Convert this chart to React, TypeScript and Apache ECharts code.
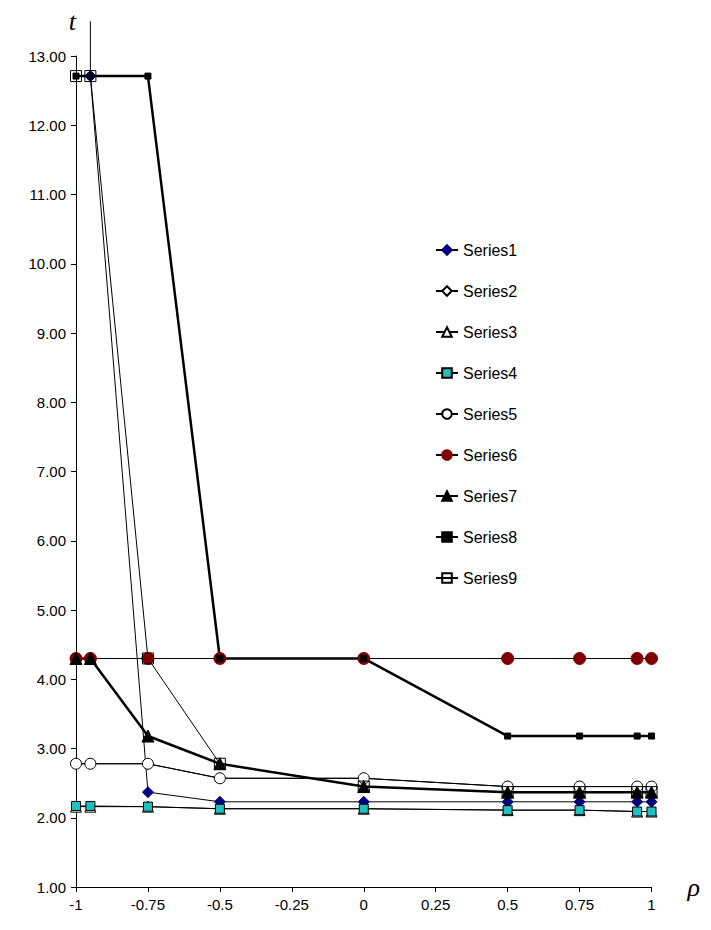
import React, { useEffect, useRef } from 'react'
import * as echarts from 'echarts'

const rhoValues = [-1, -0.95, -0.75, -0.5, 0, 0.5, 0.75, 0.95, 1]
const yTicks = [1, 13]

const series1 = [null, 12.71, 2.37, 2.23, 2.23, 2.23, 2.23, 2.23, 2.23]
const series1Top = 13.5
const series2 = [2.78, 2.78, 2.78, 2.57, 2.57, 2.45, 2.45, 2.45, 2.45]
const series3 = [2.16, 2.16, 2.16, 2.13, 2.13, 2.11, 2.11, 2.09, 2.09]
const series4 = [2.17, 2.17, 2.16, 2.13, 2.13, 2.11, 2.11, 2.09, 2.09]
const series5 = [2.78, 2.78, 2.78, 2.57, 2.57, 2.45, 2.45, 2.45, 2.45]
const series6 = [4.3, 4.3, 4.3, 4.3, 4.3, 4.3, 4.3, 4.3, 4.3]
const series7 = [4.3, 4.3, 3.18, 2.78, 2.45, 2.37, 2.37, 2.37, 2.37]
const series8 = [12.71, 12.71, 12.71, 4.3, 4.3, 3.18, 3.18, 3.18, 3.18]
const series9 = [12.71, 12.71, 4.3, 2.78, 2.45, 2.37, 2.37, 2.37, 2.37]

const pts = (vals: (number | null)[]) =>
  rhoValues.map((x, i) => [x, vals[i]]).filter(p => p[1] !== null)

const App: React.FC = () => {
  const ref = useRef<HTMLDivElement>(null)

  useEffect(() => {
    if (!ref.current) return
    const chart = echarts.init(ref.current, undefined, { renderer: 'svg' })
    const mk = (name: string, vals: (number | null)[], symbol: string, size: number, color: string, border: string, width: number) => ({
      name, type: 'line', data: pts(vals), symbol, symbolSize: size,
      lineStyle: { color: '#000', width },
      itemStyle: { color, borderColor: border, borderWidth: 1 },
    })
    const s1: any = mk('Series1', series1, 'diamond', 11, '#000080', '#000080', 1)
    s1.data = [{ value: [-0.95, series1Top], symbol: 'none' }, ...s1.data]
    s1.clip = false
    chart.setOption({
      animation: false,
      textStyle: { fontFamily: 'Liberation Sans, Arial' },
      grid: { left: 68, right: 46, top: 48, bottom: 35 },
      legend: {
        orient: 'vertical', left: 422, top: 229, itemGap: 25, itemWidth: 22, itemHeight: 12,
        textStyle: { fontSize: 16, color: '#000', fontFamily: 'Liberation Sans, Arial' },
      },
      xAxis: {
        type: 'value', min: -1, max: 1, interval: 0.25,
        name: 'ρ', nameLocation: 'end', nameGap: 36,
        nameTextStyle: { fontSize: 26, fontStyle: 'italic', fontFamily: 'Liberation Serif, serif', verticalAlign: 'middle', color: '#000' },
        axisLine: { onZero: false, lineStyle: { color: '#000' } },
        axisTick: { show: true, inside: false, length: 5, lineStyle: { color: '#000' } },
        axisLabel: { color: '#000', fontSize: 15, margin: 10, formatter: (v: number) => String(v) },
        splitLine: { show: false },
      },
      yAxis: {
        type: 'value', min: yTicks[0], max: yTicks[1], interval: 1,
        name: 't', nameLocation: 'end', nameGap: 22,
        nameTextStyle: { fontSize: 26, fontStyle: 'italic', fontFamily: 'Liberation Serif, serif', color: '#000', align: 'right' },
        axisLine: { show: true, onZero: false, lineStyle: { color: '#000' } },
        axisTick: { show: true, length: 5, lineStyle: { color: '#000' } },
        axisLabel: { color: '#000', fontSize: 15, margin: 10, formatter: (v: number) => v.toFixed(2) },
        splitLine: { show: false },
      },
      series: [
        s1,
        mk('Series2', series2, 'diamond', 11, '#fff', '#000', 1),
        mk('Series3', series3, 'triangle', 11, '#fff', '#000', 1),
        mk('Series4', series4, 'rect', 9, '#20c0c0', '#000', 1),
        mk('Series5', series5, 'circle', 11, '#fff', '#000', 1),
        mk('Series6', series6, 'circle', 12, '#800000', '#800000', 1),
        mk('Series7', series7, 'triangle', 12, '#000', '#000', 2.5),
        mk('Series8', series8, 'rect', 6, '#000', '#000', 2.5),
        mk('Series9', series9, 'rect', 11, 'rgba(255,255,255,0)', '#000', 1),
      ],
    })
    return () => chart.dispose()
  }, [])

  return <div ref={ref} style={{ width: 695, height: 914 }} />
}

export default App
